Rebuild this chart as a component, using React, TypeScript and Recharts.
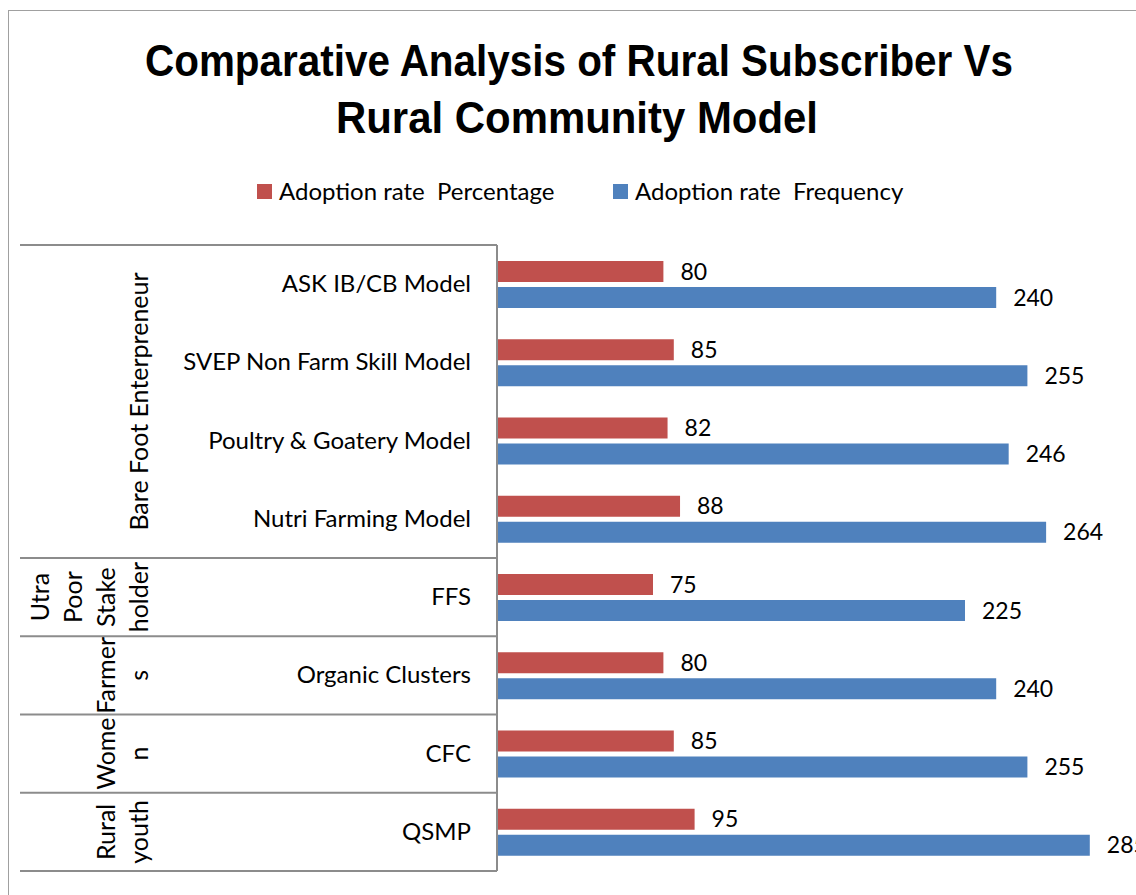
import { BarChart, Bar, XAxis, YAxis, Legend, LabelList } from 'recharts';

// chart values
const categories = [
  'ASK IB/CB Model',
  'SVEP Non Farm Skill Model',
  'Poultry & Goatery Model',
  'Nutri Farming Model',
  'FFS',
  'Organic Clusters',
  'CFC',
  'QSMP',
];
const percentage = [80, 85, 82, 88, 75, 80, 85, 95];
const frequency = [240, 255, 246, 264, 225, 240, 255, 285];

// outer level of the category axis (lines as wrapped in the original)
const groupLabels = [
  ['Bare Foot Enterpreneur'],
  ['Utra', 'Poor', 'Stake', 'holder'],
  ['Farmer', 's'],
  ['Wome', 'n'],
  ['Rural', 'youth'],
];
const groupSizes = [4, 1, 1, 1, 1];

const titleLines = ['Comparative Analysis of Rural Subscriber Vs', 'Rural Community Model'];
const seriesNames = ['Adoption rate  Percentage', 'Adoption rate  Frequency'];

const data = categories.map((name, i) => ({
  name,
  pct: percentage[i],
  freq: frequency[i],
}));

const groupStarts: number[] = [];
groupSizes.reduce((acc, n) => {
  groupStarts.push(acc);
  return acc + n;
}, 0);

const W = 1128;
const H = 887;
const MARGIN = { top: 237, right: 15, bottom: 24, left: 0 };
const AXIS_W = 489;
const BAND_HALF = (H - MARGIN.top - MARGIN.bottom) / categories.length / 2;
const FONT = 'Lato, "Open Sans", sans-serif';
const GRID = '#8c8c8c';

function CategoryTick(props: any) {
  const { x, y, payload } = props;
  const idx: number = payload.index;
  const half: number = payload.offset || BAND_HALF;
  const g = groupStarts.findIndex((s, k) => idx >= s && idx < s + groupSizes[k]);
  const isStart = groupStarts[g] === idx;
  const isEnd = groupStarts[g] + groupSizes[g] - 1 === idx;
  const lines = groupLabels[g];
  const cy = y + (groupSizes[g] - 1) * half;
  return (
    <g>
      <text x={x - 26} y={y + 8} textAnchor="end" fill="#000" fontSize={24} fontFamily={FONT}>
        {payload.value}
      </text>
      {idx === 0 && <line x1={12} x2={x} y1={y - half} y2={y - half} stroke={GRID} strokeWidth={2} />}
      {isEnd && <line x1={12} x2={x} y1={y + half} y2={y + half} stroke={GRID} strokeWidth={2} />}
      {isStart &&
        lines.map((ln, i) => {
          const bx = 140 - 33 * (lines.length - 1 - i);
          return (
            <text
              key={i}
              x={bx}
              y={cy}
              transform={`rotate(-90, ${bx}, ${cy})`}
              textAnchor="middle"
              fill="#000"
              fontSize={25}
              fontFamily={FONT}
            >
              {ln}
            </text>
          );
        })}
    </g>
  );
}

function LegendContent(props: any) {
  const items = [...(props.payload || [])].sort(
    (a: any, b: any) => seriesNames.indexOf(a.value) - seriesNames.indexOf(b.value)
  );
  return (
    <div style={{ display: 'flex', alignItems: 'center', height: 28, paddingLeft: 249, fontFamily: FONT }}>
      {items.map((it: any, i: number) => (
        <div key={i} style={{ display: 'flex', alignItems: 'center', width: i === 0 ? 356 : 'auto' }}>
          <span style={{ width: 15, height: 15, background: it.color, marginRight: 7, display: 'inline-block' }} />
          <span style={{ fontSize: 24, lineHeight: '28px', whiteSpace: 'pre', color: '#000' }}>{it.value}</span>
        </div>
      ))}
    </div>
  );
}

export default function App() {
  return (
    <div
      style={{
        position: 'fixed',
        left: 8,
        top: 8,
        width: W,
        height: H,
        overflow: 'hidden',
        background: '#fff',
      }}
    >
      <div
        style={{
          position: 'absolute',
          left: 0,
          top: 2,
          width: W + 40,
          height: H + 40,
          borderTop: '1.5px solid #a0a0a0',
          borderLeft: '1.5px solid #a0a0a0',
        }}
      />
      <svg width={W} height={160} style={{ position: 'absolute', left: 0, top: 0 }}>
        <text
          x={571}
          y={68}
          textAnchor="middle"
          fontFamily='"Liberation Sans", Arial, sans-serif'
          fontWeight="bold"
          fontSize={45}
          textLength={868}
          lengthAdjust="spacingAndGlyphs"
          fill="#000"
        >
          {titleLines[0]}
        </text>
        <text
          x={569}
          y={125}
          textAnchor="middle"
          fontFamily='"Liberation Sans", Arial, sans-serif'
          fontWeight="bold"
          fontSize={45}
          textLength={482}
          lengthAdjust="spacingAndGlyphs"
          fill="#000"
        >
          {titleLines[1]}
        </text>
      </svg>
      <div style={{ position: 'absolute', left: 0, top: 0 }}>
        <BarChart
          width={W}
          height={H}
          data={data}
          layout="vertical"
          margin={MARGIN}
          barSize={21}
          barGap={5}
        >
          <XAxis type="number" domain={[0, 300]} hide />
          <YAxis
            type="category"
            dataKey="name"
            width={AXIS_W}
            axisLine={{ stroke: GRID, strokeWidth: 2 }}
            tickLine={false}
            tickSize={0}
            tickMargin={0}
            interval={0}
            tick={<CategoryTick />}
          />
          <Legend
            layout="horizontal"
            verticalAlign="middle"
            align="center"
            wrapperStyle={{ top: 169, left: 0, width: W, height: 28 }}
            content={<LegendContent />}
          />
          <Bar dataKey="pct" name={seriesNames[0]} fill="#C0504D" isAnimationActive={false}>
            <LabelList dataKey="pct" position="right" offset={17} fill="#000" fontSize={23} fontFamily={FONT} />
          </Bar>
          <Bar dataKey="freq" name={seriesNames[1]} fill="#4F81BD" isAnimationActive={false}>
            <LabelList dataKey="freq" position="right" offset={17} fill="#000" fontSize={23} fontFamily={FONT} />
          </Bar>
        </BarChart>
      </div>
    </div>
  );
}
